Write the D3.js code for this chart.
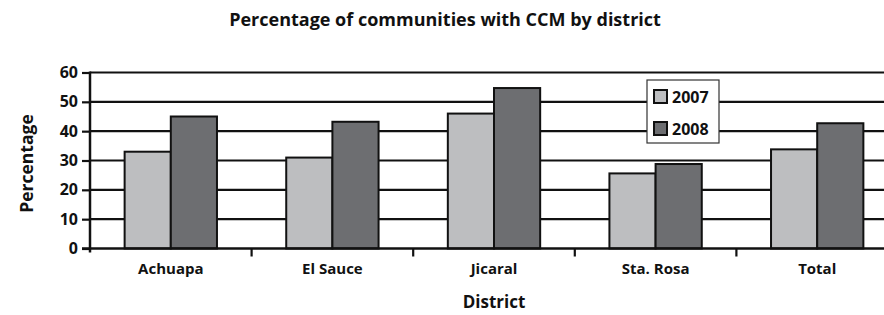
<!DOCTYPE html>
<meta charset="utf-8">
<style>
body { margin: 0; background: #fff; }
text { font-family: "Open Sans", "DejaVu Sans", sans-serif; font-weight: bold; fill: #111; }
.grid line { stroke: #111; stroke-width: 2.2; }
.bars rect { stroke: #111; stroke-width: 2; }
</style>
<body>
<script src="https://d3js.org/d3.v7.min.js"></script>
<script>
var districts = ['Achuapa', 'El Sauce', 'Jicaral', 'Sta. Rosa', 'Total']
var years = ['2007', '2008']
var values2007 = [33, 31, 46, 25.6, 33.8]
var values2008 = [45, 43.2, 54.7, 28.8, 42.7]
var yTicks = [0, 10, 20, 30, 40, 50, 60]

var width = 884, height = 315
var margin = {left: 90, top: 72.5, bottom: 248.5}
var colors = {'2007': '#bdbec0', '2008': '#6d6e71'}

var svg = d3.select('body').append('svg')
    .attr('width', width)
    .attr('height', height)

var x = d3.scaleBand()
    .domain(districts)
    .range([margin.left, 898])

var xs = d3.scaleBand()
    .domain(years)
    .range([0, x.bandwidth()])
    .paddingOuter(0.75)
    .paddingInner(0)

var y = d3.scaleLinear()
    .domain([0, 60])
    .range([margin.bottom, margin.top])

// grid
svg.append('g')
    .attr('class', 'grid')
    .selectAll('line')
    .data(yTicks.filter(function (d) { return d > 0 }))
    .enter().append('line')
    .attr('x1', margin.left)
    .attr('x2', width)
    .attr('y1', function (d) { return y(d) })
    .attr('y2', function (d) { return y(d) })

var rows = districts.map(function (d, i) {
    return {district: d, vals: [{year: '2007', v: values2007[i]}, {year: '2008', v: values2008[i]}]}
})

svg.append('g')
    .attr('class', 'bars')
    .selectAll('g')
    .data(rows)
    .enter().append('g')
    .attr('transform', function (d) { return 'translate(' + x(d.district) + ',0)' })
    .selectAll('rect')
    .data(function (d) { return d.vals })
    .enter().append('rect')
    .attr('x', function (d) { return xs(d.year) })
    .attr('width', xs.bandwidth())
    .attr('y', function (d) { return y(d.v) })
    .attr('height', function (d) { return y(0) - y(d.v) })
    .attr('fill', function (d) { return colors[d.year] })

// y axis
var yAxis = svg.append('g')
    .attr('transform', 'translate(' + margin.left + ',0)')
    .call(d3.axisLeft(y).tickValues(yTicks).tickSize(8).tickPadding(4))
yAxis.select('.domain').attr('stroke', '#111').attr('stroke-width', 2.5)
    .attr('d', 'M0,' + (margin.top - 1) + 'V' + (margin.bottom + 4))
yAxis.selectAll('.tick line').attr('stroke', '#111').attr('stroke-width', 2.2)
yAxis.selectAll('.tick text').attr('font-size', 16).attr('font-family', null).attr('fill', null)

// x axis
var xAxis = svg.append('g')
    .attr('transform', 'translate(0,' + margin.bottom + ')')
    .call(d3.axisBottom(x).tickSize(0).tickPadding(15))
xAxis.select('.domain').attr('stroke', '#111').attr('stroke-width', 2.5)
    .attr('d', 'M' + (margin.left - 8) + ',0H' + width)
xAxis.selectAll('.tick text').attr('font-size', 15).attr('font-family', null).attr('fill', null)
xAxis.selectAll('.sep')
    .data(districts.slice(1))
    .enter().append('line')
    .attr('class', 'sep')
    .attr('x1', function (d) { return x(d) })
    .attr('x2', function (d) { return x(d) })
    .attr('y1', 0).attr('y2', 8)
    .attr('stroke', '#111').attr('stroke-width', 2.2)

// titles
svg.append('text')
    .attr('x', 445).attr('y', 26)
    .attr('text-anchor', 'middle')
    .attr('font-size', 18)
    .text('Percentage of communities with CCM by district')

svg.append('text')
    .attr('x', 494).attr('y', 308)
    .attr('text-anchor', 'middle')
    .attr('font-size', 17)
    .text('District')

svg.append('text')
    .attr('transform', 'translate(33,' + ((margin.top + margin.bottom) / 2 + 3) + ') rotate(-90)')
    .attr('text-anchor', 'middle')
    .attr('font-size', 17.5)
    .text('Percentage')

// legend
var legend = svg.append('g').attr('transform', 'translate(647,80)')
legend.append('rect')
    .attr('width', 72).attr('height', 63)
    .attr('fill', '#fff').attr('stroke', '#333').attr('stroke-width', 1.2)
var li = legend.selectAll('.item')
    .data(years)
    .enter().append('g')
    .attr('class', 'item')
    .attr('transform', function (d, i) { return 'translate(7,' + (10 + i * 32) + ')' })
li.append('rect')
    .attr('width', 13).attr('height', 13)
    .attr('fill', function (d) { return colors[d] })
    .attr('stroke', '#111').attr('stroke-width', 2)
li.append('text')
    .attr('x', 18).attr('y', 13)
    .attr('font-size', 16)
    .text(function (d) { return d })
</script>
</body>
